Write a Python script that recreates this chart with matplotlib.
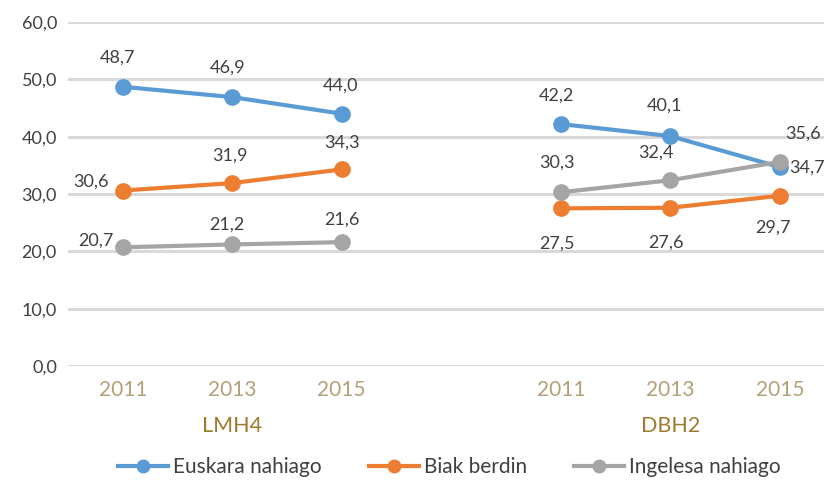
import matplotlib.pyplot as plt
from matplotlib.lines import Line2D

plt.rcParams['font.family'] = ['Lato', 'DejaVu Sans']

years = ['2011', '2013', '2015', '2011', '2013', '2015']
groups = ['LMH4', 'DBH2']
euskara = [48.7, 46.9, 44.0, 42.2, 40.1, 34.7]
biak = [30.6, 31.9, 34.3, 27.5, 27.6, 29.7]
ingelesa = [20.7, 21.2, 21.6, 30.3, 32.4, 35.6]

pos = [0, 1, 2, 4, 5, 6]
colors = ['#5B9BD5', '#ED7D31', '#A5A5A5']
names = ['Euskara nahiago', 'Biak berdin', 'Ingelesa nahiago']

# label offsets in pixels (dx, dy) per point
off_eus = [(-5, 29), (-5, 29), (-1, 28), (-4, 28), (-6, 30), (27, -1)]
off_bia = [(-32, 9), (-2, 27), (0, 27), (-4, -35), (-4, -35), (-7, -32)]
off_ing = [(-27, 7), (-5, 20), (0, 23), (-4, 30), (-14, 28), (23, 28)]

fig = plt.figure(figsize=(8.24, 4.82), dpi=100)
ax = fig.add_axes([68 / 824, 1 - 366 / 482, 766.5 / 824, 344 / 482])

for vals, c, offs in [(euskara, colors[0], off_eus), (biak, colors[1], off_bia),
                      (ingelesa, colors[2], off_ing)]:
    for seg in (slice(0, 3), slice(3, 6)):
        ax.plot(pos[seg], vals[seg], color=c, lw=3.0, marker='o', ms=11,
                solid_capstyle='round', zorder=3)
    for x, v, (dx, dy) in zip(pos, vals, offs):
        ax.annotate(f'{v:.1f}'.replace('.', ','), (x, v), xytext=(dx, dy),
                    textcoords='offset pixels', ha='center', va='center',
                    fontsize=13, color='#404040', zorder=4)

ax.set_xlim(-0.5, 6.5)
ax.set_ylim(0, 60)
ax.set_yticks(range(0, 61, 10))
ax.set_yticklabels([f'{t},0' for t in range(0, 61, 10)])
ax.grid(axis='y', color='#D9D9D9', lw=2.2, zorder=0)
ax.set_axisbelow(True)
ax.set_xticks(pos)
ax.set_xticklabels(years)
ax.tick_params(axis='both', length=0)
ax.tick_params(axis='x', colors='#B4A078', labelsize=15, pad=10)
ax.tick_params(axis='y', colors='#404040', labelsize=13, pad=8)
for s in ax.spines.values():
    s.set_visible(False)

for g, x in zip(groups, [1, 5]):
    ax.text(x, -0.174, g, transform=ax.get_xaxis_transform(), ha='center',
            va='center', fontsize=15.5, color='#9E7A2E')

handles = [Line2D([], [], color=c, lw=3.0, marker='o', ms=9) for c in colors]
fig.legend(handles, names, loc='center left', bbox_to_anchor=(118 / 824, 1 - 467 / 482),
           ncol=3, frameon=False, fontsize=15, handlelength=2.4, borderpad=0,
           borderaxespad=0, handletextpad=0.25, columnspacing=2.25,
           labelcolor='#404040')

fig.savefig('out.png', dpi=100)
